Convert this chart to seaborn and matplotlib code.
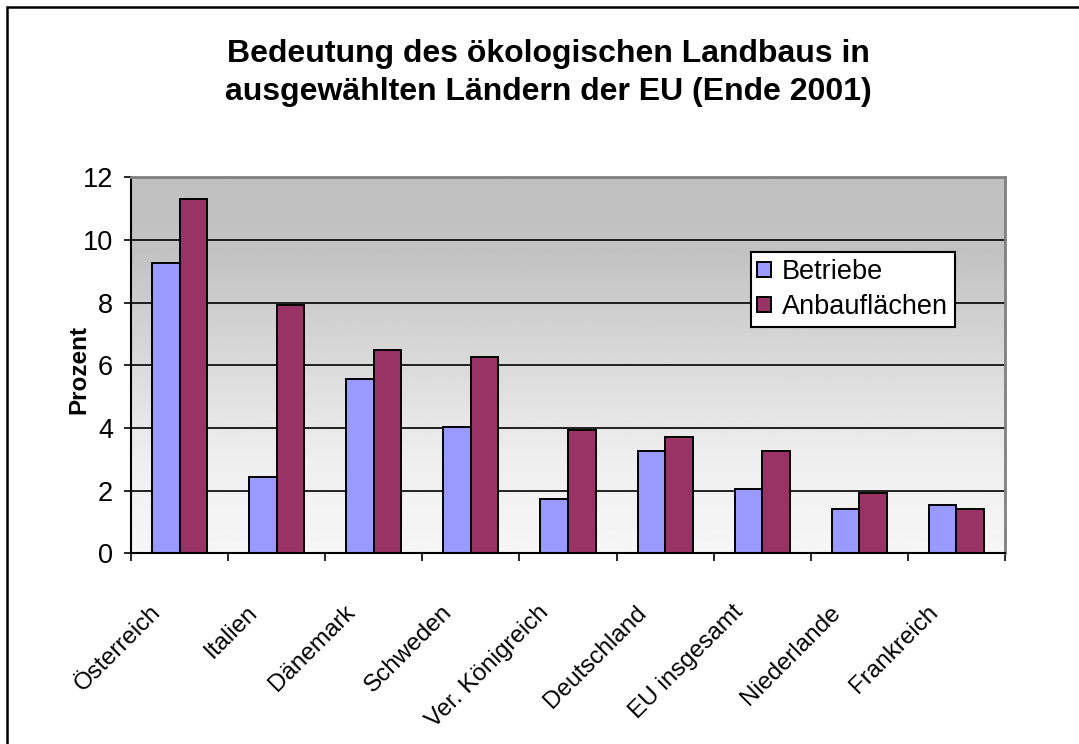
import numpy as np
import pandas as pd
import matplotlib
matplotlib.use('Agg')
import matplotlib.pyplot as plt
import seaborn as sns
from matplotlib.transforms import ScaledTranslation
from matplotlib.patches import Rectangle

# ---- data ----
laender = ['Österreich', 'Italien', 'Dänemark', 'Schweden', 'Ver. Königreich',
           'Deutschland', 'EU insgesamt', 'Niederlande', 'Frankreich']
betriebe = [9.25, 2.42, 5.55, 4.03, 1.72, 3.25, 2.04, 1.40, 1.53]
anbauflaechen = [11.3, 7.92, 6.5, 6.25, 3.95, 3.7, 3.25, 1.92, 1.40]
serien = ['Betriebe', 'Anbauflächen']
yticks = [0, 2, 4, 6, 8, 10, 12]
title_lines = ['Bedeutung des ökologischen Landbaus in',
               'ausgewählten Ländern der EU (Ende 2001)']
ylabel = 'Prozent'

sns.set_theme(style='white')
plt.rcParams['font.family'] = ['Liberation Sans', 'DejaVu Sans']
for k in ['text.color', 'axes.labelcolor', 'xtick.color', 'ytick.color']:
    plt.rcParams[k] = 'black'

df = pd.DataFrame({
    'Land': laender * 2,
    'Wert': betriebe + anbauflaechen,
    'Serie': [serien[0]] * len(laender) + [serien[1]] * len(laender),
})

W, H = 1079, 744
fig = plt.figure(figsize=(W / 100, H / 100), dpi=100)
fig.patch.set_facecolor('white')
ax = fig.add_axes([131 / W, 1 - 553.3 / H, 874 / W, 376 / H])

sns.barplot(data=df, x='Land', y='Wert', hue='Serie', order=laender, hue_order=serien,
            palette=['#9999FF', '#993366'], edgecolor='black', linewidth=1.4,
            width=0.567, saturation=1, ax=ax, errorbar=None, zorder=2)

# gradient plot-area background (grey top -> near white bottom)
t = np.linspace(0, 1, 256)
vals = np.interp(t, [0, 0.25, 0.5, 0.8, 1], [246, 238, 218, 194, 192]) / 255
img = np.repeat(vals[:, None], 2, axis=1)
ax.imshow(img, cmap='gray', vmin=0, vmax=1, extent=[-0.5, 8.5, 0, 12],
          origin='lower', aspect='auto', zorder=0, interpolation='bilinear')

ax.set_xlim(-0.5, 8.5)
ax.set_ylim(0, 12)
ax.set_yticks(yticks)
ax.set_yticklabels([str(v) for v in yticks])
ax.yaxis.grid(True, color='black', linewidth=1.2)
ax.xaxis.grid(False)
ax.set_axisbelow(True)

# x ticks: major at category boundaries, labels on minor ticks at centers
ax.set_xticks(np.arange(-0.5, len(laender), 1))
ax.set_xticklabels([])
ax.set_xticks(np.arange(len(laender)), minor=True)
ax.set_xticklabels(laender, minor=True, rotation=45, ha='right', va='top',
                   rotation_mode='anchor', fontsize=17.5)
ax.tick_params(axis='x', which='major', direction='out', length=5.5, width=1.2,
               color='black', bottom=True)
ax.tick_params(axis='x', which='minor', length=0, pad=34.5, bottom=True)
for lbl in ax.get_xticklabels(minor=True):
    lbl.set_transform(lbl.get_transform() + ScaledTranslation(-0.30, 0, fig.dpi_scale_trans))

ax.tick_params(axis='y', direction='out', length=5, width=1.2, color='black',
               labelsize=19.5, pad=8, left=True)
ax.set_xlabel('')
ax.set_ylabel(ylabel, fontsize=17.5, fontweight='bold')
ax.yaxis.set_label_coords(-0.047, 0.49)

for s in ['top', 'right']:
    ax.spines[s].set_color('#808080')
    ax.spines[s].set_linewidth(2)
for s in ['left', 'bottom']:
    ax.spines[s].set_color('black')
    ax.spines[s].set_linewidth(1.5)

leg = ax.legend(loc='upper left', bbox_to_anchor=(0.709, 0.8005), frameon=True,
                fancybox=False, edgecolor='black', facecolor='white', framealpha=1,
                fontsize=19.5, handlelength=0.5, handleheight=0.5, handletextpad=0.4,
                labelspacing=0.33, borderpad=0.25, borderaxespad=0)
leg.get_frame().set_linewidth(1.5)

fig.text(548 / W, 1 - 62 / H, title_lines[0], ha='center', va='baseline',
         fontsize=23, fontweight='bold')
fig.text(548 / W, 1 - 100 / H, title_lines[1], ha='center', va='baseline',
         fontsize=23, fontweight='bold')

# chart-area frame (only left and top edges visible)
fig.add_artist(Rectangle((7 / W, -0.5), 2, (1 - 7 / H) + 0.5, transform=fig.transFigure,
                         fill=False, edgecolor='black', linewidth=1.8))

fig.savefig('out.png', dpi=100)
